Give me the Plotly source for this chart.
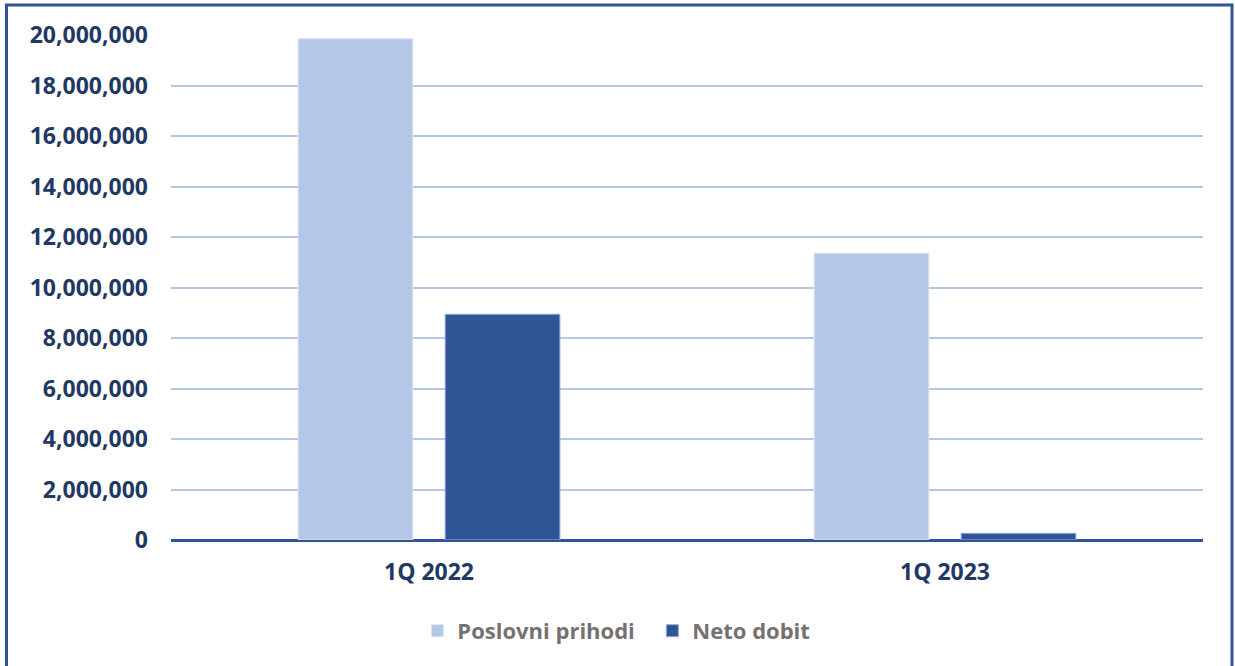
import plotly.graph_objects as go

categories = ["1Q 2022", "1Q 2023"]
poslovni_prihodi = [19850000, 11360000]
neto_dobit = [8940000, 265000]
tick_vals = [0, 2000000, 4000000, 6000000, 8000000, 10000000, 12000000, 14000000, 16000000, 18000000, 20000000]
tick_text = ["0", "2,000,000", "4,000,000", "6,000,000", "8,000,000", "10,000,000",
             "12,000,000", "14,000,000", "16,000,000", "18,000,000", "20,000,000"]

FONT = "Open Sans"
NAVY = "#1F3864"

fig = go.Figure()
fig.add_trace(go.Bar(
    name="Poslovni prihodi", x=categories, y=poslovni_prihodi,
    marker=dict(color="#B4C7E7", line=dict(color="#DAE3F3", width=1)),
))
fig.add_trace(go.Bar(
    name="Neto dobit", x=categories, y=neto_dobit,
    marker=dict(color="#2F5597", line=dict(color="#8FAADC", width=1)),
))

fig.update_layout(
    width=1235, height=666,
    margin=dict(l=171, r=32, t=35, b=126),
    paper_bgcolor="white", plot_bgcolor="white",
    barmode="group", bargap=0.43, bargroupgap=0.22,
    font=dict(family=FONT, color=NAVY),
    showlegend=True,
    legend=dict(
        orientation="h", x=(438 - 171) / 1032 - 0.02, xanchor="left", y=-0.18, yanchor="middle",
        font=dict(family=FONT, size=22, color="#767171", weight="bold"),
        itemwidth=30, traceorder="normal", entrywidth=190,
    ),
    xaxis=dict(
        showgrid=False, showline=False, zeroline=False,
        tickfont=dict(family=FONT, size=23, color=NAVY, weight="bold"),
        ticklabelstandoff=16,
    ),
    yaxis=dict(
        range=[0, 20000000], tickvals=tick_vals, ticktext=tick_text,
        showgrid=True, gridcolor="#B4C7E7", gridwidth=2,
        zeroline=True, zerolinecolor="#2F5597", zerolinewidth=3,
        showline=False,
        tickfont=dict(family=FONT, size=23, color=NAVY, weight="bold"),
        ticklabelstandoff=22,
    ),
    shapes=[
        dict(type="rect", xref="paper", yref="paper",
             x0=(6.5 - 171) / 1032, x1=(1232 - 171) / 1032,
             y0=-0.4, y1=(540 - 5) / 505,
             line=dict(color="#2F5597", width=3), fillcolor="rgba(0,0,0,0)",
             layer="below"),
    ],
)

fig.write_html(
    "out.html",
    config={"displayModeBar": False},
    post_script="document.body.style.margin='0';document.body.style.padding='0';",
)
